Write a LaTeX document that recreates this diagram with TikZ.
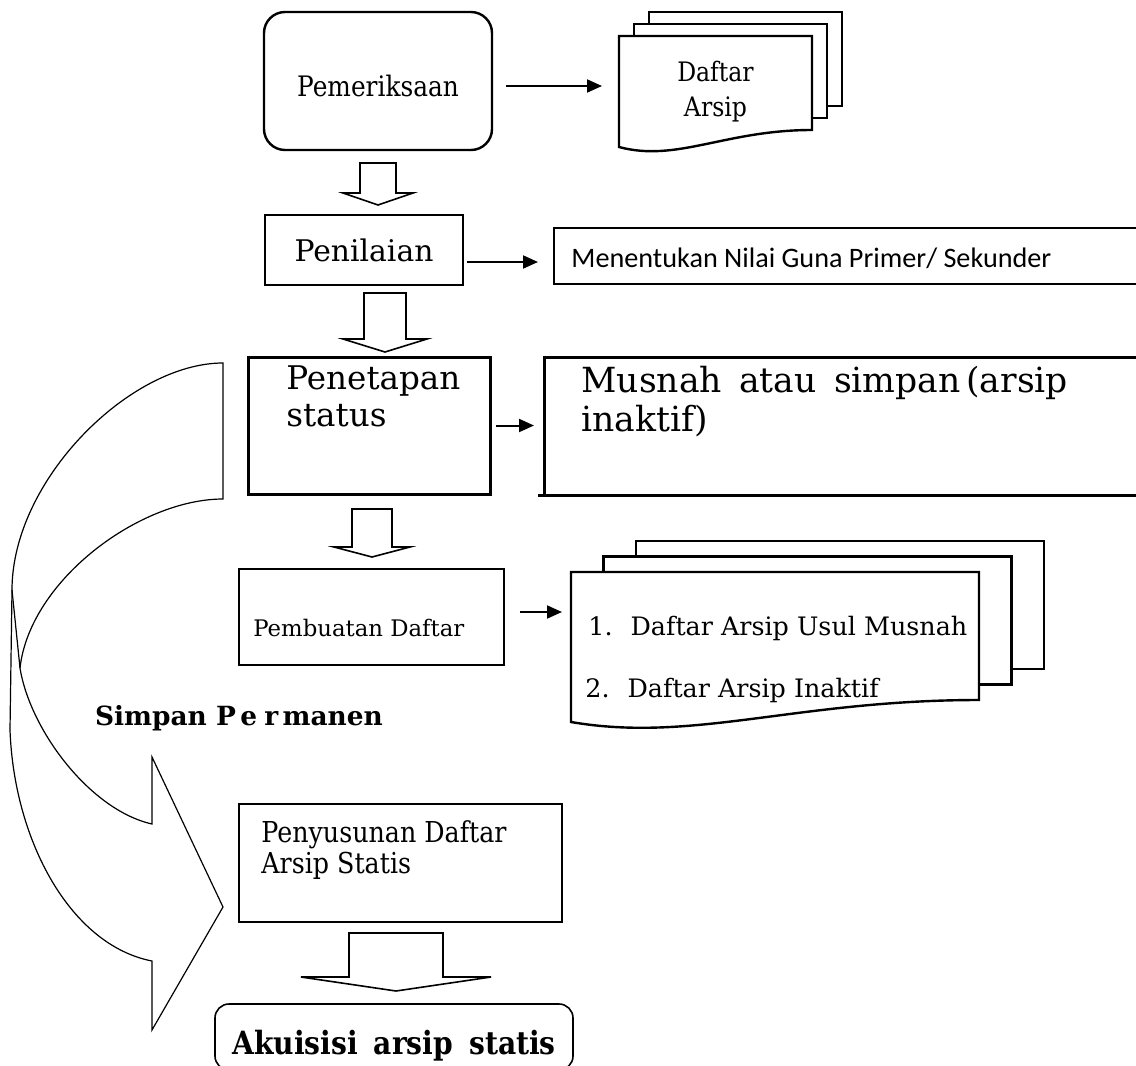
\documentclass[tikz,border=0pt]{standalone}
\usepackage{fontspec}
\setmainfont{DejaVu Serif}[FakeStretch=0.88]
\newfontfamily\bookman{DejaVu Serif}
\newfontfamily\calibri{Carlito}
\usetikzlibrary{arrows.meta,positioning}

% hollow block arrow pointing down: centre x, top, half shaft, barb y, half barb, tip y
\newcommand{\blockdown}[6]{%
  \draw[blockarrow] ({#1-#3},#2) -- ({#1-#3},#4) -- ({#1-#5},#4) -- (#1,#6)
    -- ({#1+#5},#4) -- ({#1+#3},#4) -- ({#1+#3},#2) -- cycle;}
% stack of three document sheets: x1,y1,x2, bottom left, bottom right, offset x, offset y
\newcommand{\docstack}[7]{%
  \foreach \pg in {2,1}{ % back sheets first
    \draw[page] ({#1+\pg*#6},{#2-\pg*#7}) rectangle ({#3+\pg*#6},{#5-\pg*#7});
  }
  \draw[page] (#1,#2) -- (#3,#2) -- (#3,#5)
    .. controls ({#1+0.55*(#3-#1)},#5) and ({#1+0.3*(#3-#1)},{#4+0.14*(#4-#2)}) .. (#1,#4) -- cycle;}

\begin{document}
\begin{tikzpicture}[x=0.5pt,y=-0.5pt,% one unit = one pixel of the layout
        box/.style={draw, inner sep=0pt, outer sep=0pt},
        openbox/.style={inner sep=0pt, outer sep=0pt},
        txt/.style={inner sep=0pt},
        flow/.style={line width=1pt, -{Triangle[length=7.5pt,width=6.5pt]}},
        blockarrow/.style={draw, fill=white, line width=0.8pt},
        page/.style={draw, fill=white, line width=1.2pt},
        bendarrow/.style={draw, fill=white, line width=0.6pt}]
\fill[white] (0,0) rectangle (1136,1066);
\useasboundingbox (0,0) rectangle (1136,1066);

% document stacks
\docstack{619}{36}{812}{147}{130}{15}{12}
\docstack{571}{572}{979}{722}{700}{32.5}{15.5}

% boxes
\node[box, rounded corners=10.5pt, line width=1.2pt, minimum width=114pt, minimum height=69pt] (pem) at (378,81) {};
\node[txt, font=\fontsize{14.1}{16}\selectfont] (pemtxt) at ([yshift=-2.5pt]pem.center) {Pemeriksaan};
\node[openbox, minimum width=96.5pt, minimum height=55.5pt, align=center,
      font=\fontsize{13.4}{17.5}\selectfont] (daftar) at (715.5,91.5) {Daftar\\Arsip};

\node[box, line width=0.8pt, minimum width=99pt, minimum height=35pt,
      font=\bookman\fontsize{14.9}{17}\selectfont] (pen) at (364,250) {Penilaian};
\node[openbox, minimum width=291pt, minimum height=28pt] (nilai) at (845,256) {};
\draw[line width=1pt] (nilai.north east) -- (nilai.north west) -- (nilai.south west) -- (nilai.south east);
\node[txt, anchor=west, font=\calibri\fontsize{14.1}{16}\selectfont] (nilaitxt)
      at ([xshift=8.5pt,yshift=-1pt]nilai.west) {Menentukan Nilai Guna Primer/ Sekunder};

\node[box, line width=1.5pt, minimum width=121pt, minimum height=68.5pt] (status) at (369,425.5) {};
\node[txt, anchor=north west, align=left, font=\bookman\fontsize{16.3}{18.5}\selectfont] (statustxt)
      at ([xshift=19pt,yshift=-4pt]status.north west) {Penetapan\\status};
\node[openbox, minimum width=296pt, minimum height=69pt] (musnah) at (840,426) {};
\draw[line width=1.5pt] (musnah.north east) -- (musnah.north west) -- (musnah.south west);
\draw[line width=1.5pt] ([xshift=-3pt]musnah.south west) -- (musnah.south east);
\node[txt, anchor=north west, align=left, font=\bookman\fontsize{17.3}{19.5}\selectfont] (musnahtxt)
      at ([xshift=18.5pt,yshift=-4.5pt]musnah.north west) {Musnah\enspace atau\enspace simpan\,(arsip\\inaktif)};

\node[box, line width=0.7pt, minimum width=132.5pt, minimum height=48pt] (buat) at (371.5,617) {};
\node[txt, anchor=west, font=\bookman\fontsize{11.4}{13}\selectfont] (buattxt)
      at ([xshift=7pt,yshift=-5.5pt]buat.west) {Pembuatan Daftar};
\node[openbox, minimum width=204pt, minimum height=75pt] (usul) at (775,647) {};
\node[txt, anchor=west, font=\bookman\fontsize{12.7}{15}\selectfont] (usul1)
      at ([xshift=8.5pt,yshift=9.5pt]usul.west) {1.\hspace{9pt}Daftar Arsip Usul Musnah};
\node[txt, anchor=west, font=\bookman\fontsize{12.7}{15}\selectfont] (usul2)
      at ([xshift=7pt,yshift=-21.5pt]usul.west) {2.\hspace{9pt}Daftar Arsip Inaktif};

\node[txt, font=\bookman\bfseries\fontsize{13.2}{15}\selectfont] (simpan) at (239,718) {Simpan P\,e\;r\,manen};

\node[box, line width=1pt, minimum width=161.5pt, minimum height=59pt] (susun) at (400.5,863) {};
\node[txt, anchor=north west, align=left, font=\fontsize{14.4}{15.5}\selectfont] (susuntxt)
      at ([xshift=11pt,yshift=-8pt]susun.north west) {Penyusunan Daftar\\Arsip Statis};
\node[box, rounded corners=7pt, line width=0.8pt, minimum width=179pt, minimum height=33pt] (aku) at (394,1037) {};
\node[txt, font=\bfseries\fontsize{16}{18}\selectfont] (akutxt)
      at ([yshift=-4.5pt]aku.center) {Akuisisi\hspace{8pt}arsip\hspace{8pt}statis};

% hollow arrows between the steps
\blockdown{378}{163}{18}{193}{35}{205}
\blockdown{385}{293}{21}{339}{42}{352}
\blockdown{372}{509}{20}{547}{38}{557}
\blockdown{396}{933}{47}{977}{95}{991}

% curved arrow on the left
\draw[bendarrow] (223,363) .. controls (130,363) and (12,480) .. (12,590)
  -- (10,730) .. controls (14,840) and (70,945) .. (152,961)
  -- (152,1030) -- (223,907) -- (152,757) -- (152,824)
  .. controls (90,810) and (30,730) .. (20,668)
  .. controls (30,580) and (140,499) .. (223,499) -- cycle;
\draw[bendarrow] (12,590) -- (20,668);

% side arrows
\draw[flow, shorten <=7pt, shorten >=8.5pt] ([yshift=-2.5pt]pem.east) -- ([yshift=-2.5pt]pem.east -| daftar.west);
\draw[flow, shorten <=2pt, shorten >=8pt] ([yshift=-6pt]pen.east) -- ([yshift=-6pt]pen.east -| nilai.west);
\draw[flow, shorten <=3pt, shorten >=5pt] (status.east) -- (status.east -| musnah.west);
\draw[flow, shorten <=8pt, shorten >=4.5pt] ([yshift=2.5pt]buat.east) -- ([yshift=2.5pt]buat.east -| usul.west);

\end{tikzpicture}
\end{document}
